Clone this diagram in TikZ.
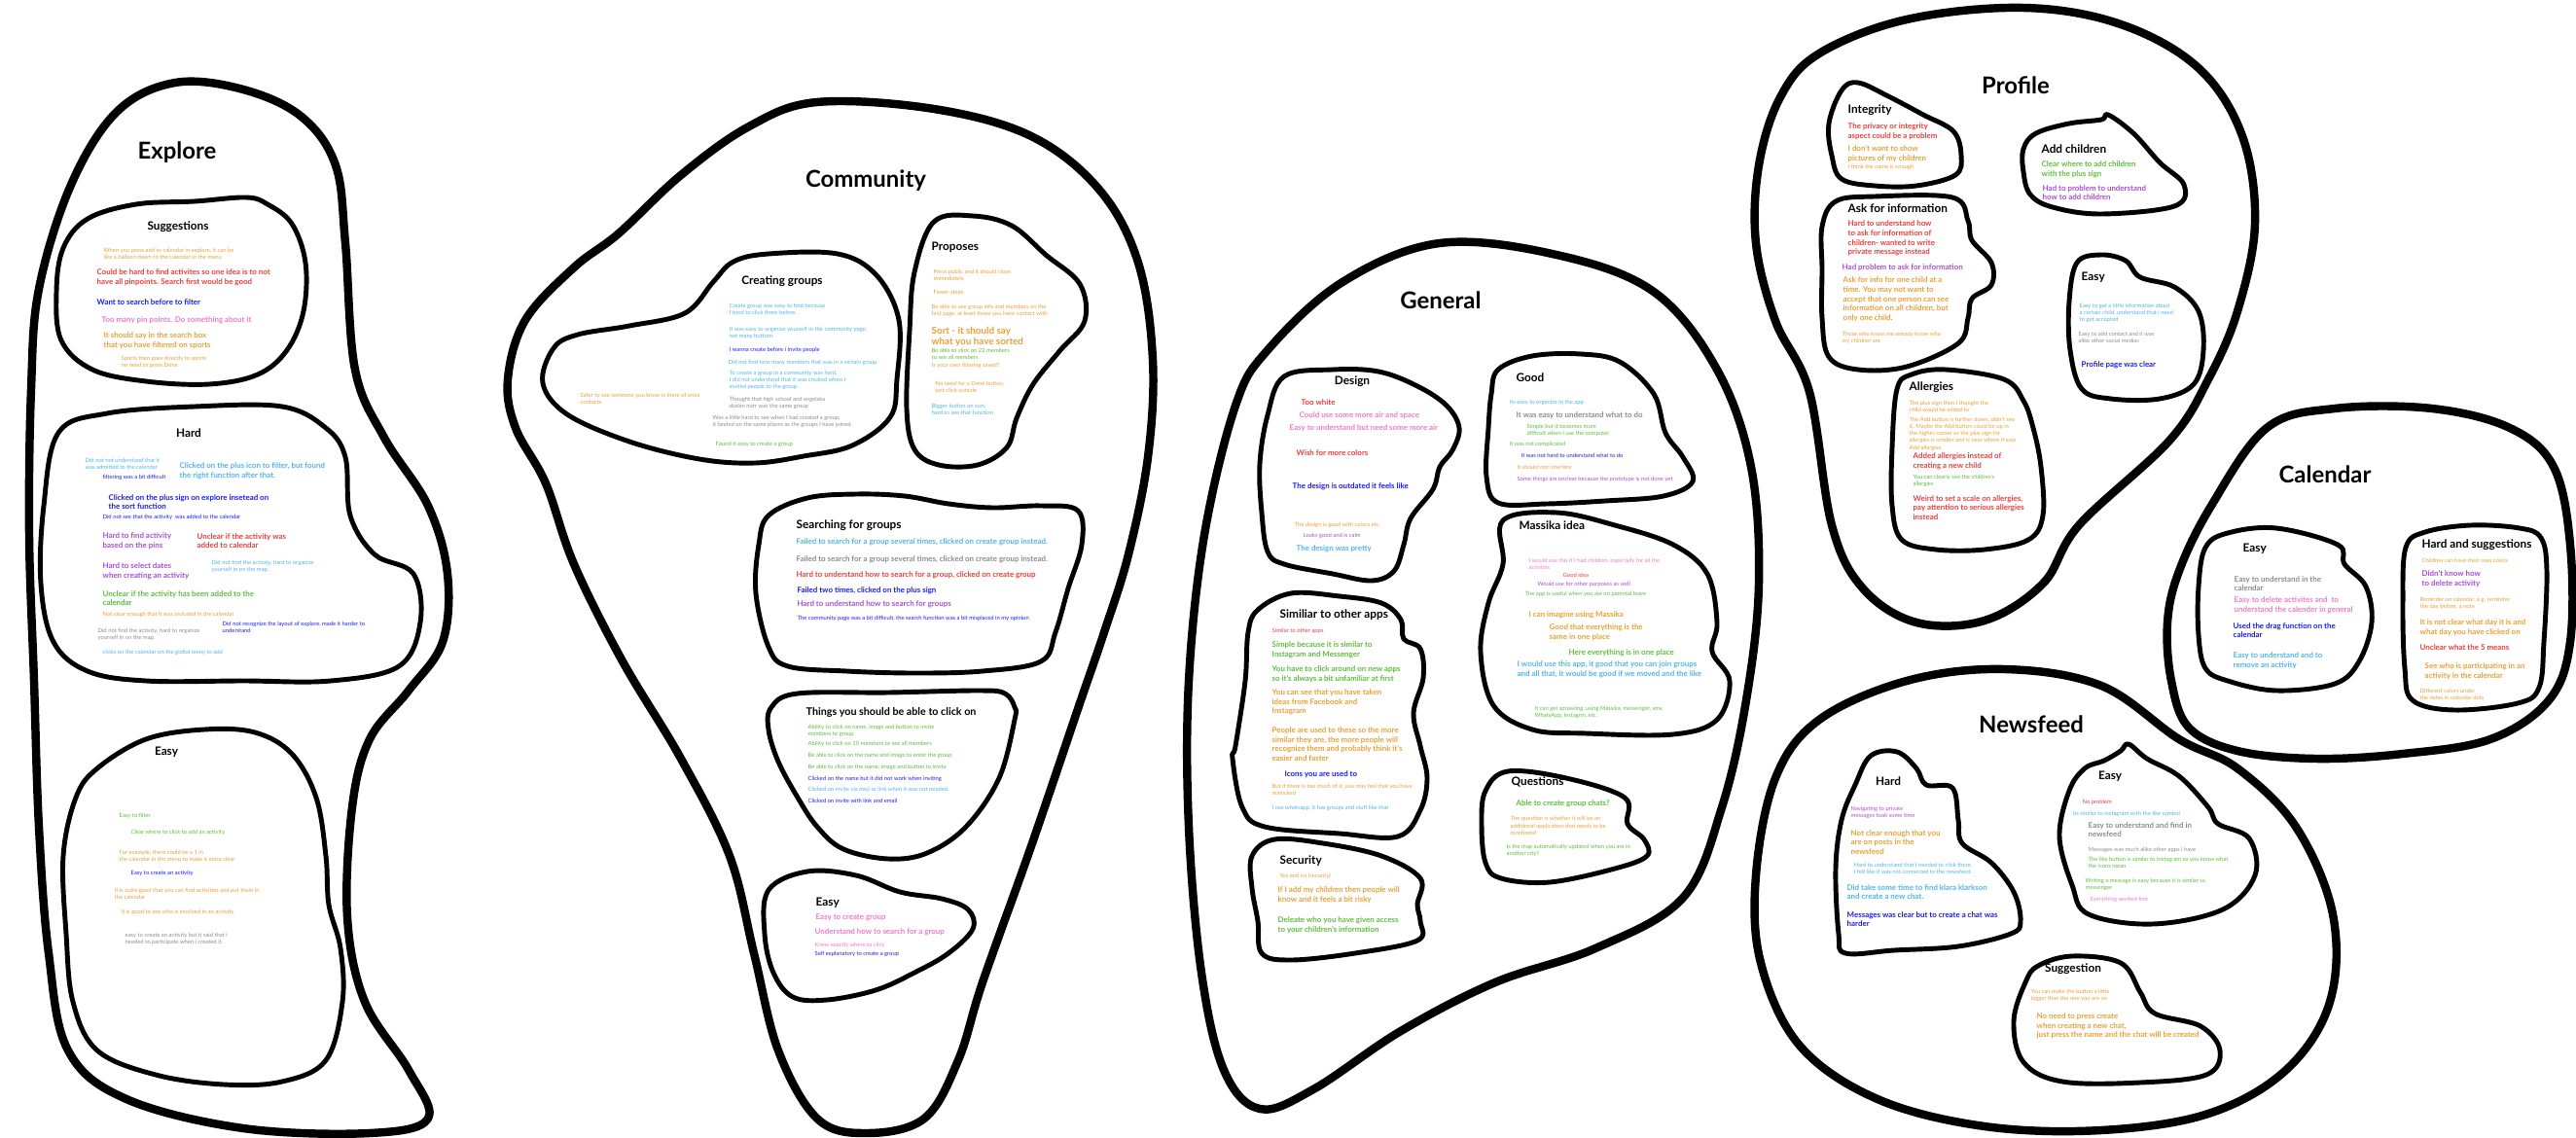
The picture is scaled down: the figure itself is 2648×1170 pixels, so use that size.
\documentclass[tikz,border=0pt]{standalone}
\usepackage{fontspec}
\setmainfont{Lato}
\usepackage{tikz}

\definecolor{nOrange}{RGB}{233,160,52}
\definecolor{nRed}{RGB}{232,62,60}
\definecolor{nBlue}{RGB}{28,28,240}
\definecolor{nLight}{RGB}{78,182,232}
\definecolor{nPink}{RGB}{240,122,200}
\definecolor{nPurple}{RGB}{168,78,212}
\definecolor{nGreen}{RGB}{92,190,60}
\definecolor{nGrey}{RGB}{140,140,140}

\tikzset{
  area/.style={draw=black, line width=2.4pt, line join=round, line cap=round},
  group/.style={draw=black, line width=1.4pt, line join=round, line cap=round},
  maintitle/.style={font=\fontsize{6.8pt}{8pt}\selectfont\bfseries, inner sep=0pt},
  subtitle/.style={font=\fontsize{3.35pt}{4pt}\selectfont\bfseries, anchor=west, inner sep=0pt},
  big/.style={font=\fontsize{2.25pt}{2.75pt}\selectfont\bfseries, anchor=west, align=left, inner sep=0pt},
  sm/.style={font=\fontsize{1.66pt}{2.05pt}\selectfont, anchor=west, align=left, inner sep=0pt},
}

\begin{document}
\begin{tikzpicture}[x=0.01cm,y=-0.01cm]
\useasboundingbox (0,0) rectangle (2648,1170);

% Explore
\draw[area] plot[smooth cycle, tension=0.6] coordinates {(180,85) (250,92) (310,120) (345,170) (355,250) (365,380) (395,450) (440,520) (460,590) (455,660) (420,710) (380,760) (362,830) (357,943) (375,1030) (420,1100) (440,1150) (380,1165) (250,1160) (130,1130) (70,1080) (50,980) (40,850) (35,700) (30,550) (32,400) (40,297) (73,190) (120,115)};
\node[maintitle] (explore) at (182,157) {Explore};

\draw[group] plot[smooth cycle, tension=0.6] coordinates {(253,203) (275,210) (300,230) (314,270) (312,320) (295,360) (265,385) (215,395) (150,392) (95,380) (63,350) (58,300) (65,255) (90,225) (140,210) (200,207)};
\node[subtitle, anchor=center] (exSug) at (183,233) {Suggestions};
\node[sm, nOrange] (exSug1) at (106,261) {When you press add to calendar in explore, it can be\\like a balloon down to the calendar in the menu};
\node[big, nRed] (exSug2) at (99,285) {Could be hard to find activites so one idea is to not\\have all pinpoints. Search first would be good};
\node[big, nBlue] (exSug3) at (99,311) {Want to search before to filter};
\node[big, nPink] (exSug4) at (104,329) {Too many pin points. Do something about it};
\node[big, nOrange] (exSug5) at (106,350) {It should say in the search box\\that you have filtered on sports};
\node[sm, nOrange] (exSug6) at (124,372) {Sports then goes directly to sports\\no need to press Done};

\draw[group] plot[smooth cycle, tension=0.6] coordinates {(60,445) (110,425) (200,418) (290,418) (335,440) (355,470) (360,530) (385,570) (425,590) (432,640) (410,685) (340,700) (250,700) (150,700) (90,690) (55,660) (42,600) (45,520)};
\node[subtitle, anchor=center] (exHard) at (194,445) {Hard};
\node[sm, nLight] (exHard1) at (87,477) {Did not not understand that it\\was admitted to the calendar};
\node[sm, nBlue] (exHard2) at (105,491) {filtering was a bit difficult};
\node[big, nLight] (exHard3) at (184,484) {Clicked on the plus icon to filter, but found\\the right function after that.};
\node[big, nBlue] (exHard4) at (111,516) {Clicked on the plus sign on explore insetead on\\the sort function};
\node[sm, nBlue] (exHard5) at (105,532) {Did not see that the activity\ \ was added to the calendar};
\node[big, nPurple] (exHard6) at (105,556) {Hard to find activity\\based on the pins};
\node[big, nRed] (exHard7) at (202,556) {Unclear if the activity was\\added to calendar};
\node[big, nPurple] (exHard8) at (105,587) {Hard to select dates\\when creating an activity};
\node[sm, nLight] (exHard9) at (217,582) {Did not find the activity, hard to organize\\yourself in on the map.};
\node[big, nGreen] (exHard10) at (105,615) {Unclear if the activity has been added to the\\calendar};
\node[sm, nOrange] (exHard11) at (105,632) {Not clear enough that it was included in the calendar};
\node[sm, nGrey] (exHard12) at (100,652) {Did not find the activity, hard to organize\\ yourself in on the map.};
\node[sm, nBlue] (exHard13) at (228,645) {Did not recognize the layout of explore, made it harder to\\understand};
\node[sm, nLight] (exHard14) at (105,671) {clicks on the calendar on the global meny to add};

\draw[group] plot[smooth cycle, tension=0.6] coordinates {(100,790) (150,760) (210,750) (262,753) (300,775) (325,820) (335,880) (338,930) (350,975) (352,1030) (335,1090) (290,1112) (230,1115) (160,1105) (100,1080) (75,1030) (68,960) (65,880) (78,820)};
\node[subtitle, anchor=center] (exEasy) at (171,773) {Easy};
\node[sm, nGreen] (exEasy1) at (122,839) {Easy to filter};
\node[sm, nGreen] (exEasy2) at (134,856) {Clear where to click to add an activity};
\node[sm, nOrange] (exEasy3) at (122,880) {For example, there could be a 1 in\\the calendar in the menu to make it extra clear};
\node[sm, nBlue] (exEasy4) at (134,898) {Easy to create an activity};
\node[sm, nOrange] (exEasy5) at (117,919) {It is quite good that you can find activities and put them in\\the calendar};
\node[sm, nOrange] (exEasy6) at (124,938) {It is good to see who is involved in an activity.};
\node[sm, nGrey] (exEasy7) at (128,965) {easy to create an activity but it said that i\\needed to participate when i created it.};

% Community
\draw[area] plot[smooth cycle, tension=0.6] coordinates {(840,105) (960,112) (1060,140) (1130,195) (1170,270) (1185,370) (1180,470) (1160,570) (1135,650) (1110,723) (1060,870) (1010,1010) (985,1090) (950,1150) (890,1165) (840,1150) (800,1080) (775,980) (750,880) (700,780) (640,680) (590,580) (561,497) (530,440) (522,390) (540,329) (590,275) (636,240) (700,180) (770,130)};
\node[maintitle] (community) at (890,186) {Community};

\draw[group] plot[smooth cycle, tension=0.6] coordinates {(790,261) (861,261) (901,283) (924,329) (922,390) (915,429) (876,458) (826,469) (776,476) (719,472) (647,454) (583,426) (558,394) (569,358) (594,344) (647,335) (704,322) (733,290) (754,269)};
\node[subtitle, anchor=center] (cmCreate) at (804,289) {Creating groups};
\node[sm, nLight] (cmCreate1) at (749,318) {Create group was easy to find because\\I tried to click there before.};
\node[sm, nLight] (cmCreate2) at (749,342) {It was easy to organize yourself in the community page,\\ not many buttons};
\node[sm, nBlue] (cmCreate3) at (749,360) {I wanna create before i invite people};
\node[sm, nLight] (cmCreate4) at (748,373) {Did not find how many members that was in a sertain group};
\node[sm, nLight] (cmCreate5) at (749,391) {To create a group in a community was hard,\\I did not understand that it was created when I\\invited people to the group.};
\node[sm, nGrey] (cmCreate6) at (749,414) {Thought that high school and engelska\\ skolan norr was the same group};
\node[sm, nGrey] (cmCreate7) at (732,433) {Was a little hard to see when I had created a group,\\ it landed on the same places as the groups I have joined.};
\node[sm, nGreen] (cmCreate8) at (735,457) {Found it easy to create a group};
\node[sm, nOrange] (cmCreate9) at (596,410) {Safer to see someone you know is there of ones\\contacts};

\draw[group] plot[smooth cycle, tension=0.6] coordinates {(960,228) (1000,222) (1040,232) (1075,262) (1110,292) (1115,330) (1090,360) (1062,395) (1045,430) (1035,460) (1005,478) (965,478) (940,462) (932,420) (935,340) (940,280)};
\node[subtitle] (cmProp) at (957,254) {Proposes};
\node[sm, nOrange] (cmProp1) at (959,283) {Press public and it should close\\immediately};
\node[sm, nOrange] (cmProp2) at (959,301) {Fewer steps};
\node[sm, nOrange] (cmProp3) at (957,319) {Be able to see group info and members on the\\first page, at least those you have contact with};
\node[big, nOrange, font=\fontsize{2.8pt}{3.3pt}\selectfont\bfseries] (cmProp4) at (957,346) {Sort - it should say\\what you have sorted};
\node[sm, nGreen] (cmProp5) at (957,364) {Be able to click on 22 members\\to see all members};
\node[sm, nOrange] (cmProp6) at (957,376) {Is your own filtering saved?};
\node[sm, nOrange] (cmProp7) at (961,398) {No need for a Done button,\\just click outside};
\node[sm, nLight] (cmProp8) at (957,421) {Bigger button on sort,\\hard to see that function};

\draw[group] plot[smooth cycle, tension=0.6] coordinates {(790,530) (830,512) (880,508) (930,510) (975,518) (1020,522) (1070,520) (1108,525) (1112,560) (1098,605) (1085,650) (1070,680) (1010,690) (940,692) (870,690) (810,685) (790,665) (777,610) (780,560)};
\node[subtitle] (cmSearch) at (818,540) {Searching for groups};
\node[big, nLight] (cmSearch1) at (818,557) {Failed to search for a group several times, clicked on create group instead.};
\node[big, nGrey] (cmSearch2) at (818,575) {Failed to search for a group several times, clicked on create group instead.};
\node[big, nRed] (cmSearch3) at (818,591) {Hard to understand how to search for a group, clicked on create group};
\node[big, nBlue] (cmSearch4) at (819,607) {Failed two times, clicked on the plus sign};
\node[big, nPurple] (cmSearch5) at (819,621) {Hard to understand how to search for groups};
\node[sm, nBlue] (cmSearch6) at (819,636) {The community page was a bit difficult, the search function was a bit misplaced in my opinion};

\draw[group] plot[smooth cycle, tension=0.6] coordinates {(793,727) (820,713) (913,712) (1007,710) (1033,713) (1043,727) (1043,740) (1027,800) (993,850) (953,877) (913,883) (867,873) (840,850) (820,820) (800,783) (790,750)};
\node[subtitle, font=\fontsize{3.05pt}{4pt}\selectfont\bfseries] (cmClick) at (828,732) {Things you should be able to click on};
\node[sm, nGreen] (cmClick1) at (830,751) {Ability to click on name, image and button to invite\\members to group};
\node[sm, nGreen] (cmClick2) at (830,765) {Ability to click on 10 members to see all members};
\node[sm, nGreen] (cmClick3) at (830,777) {Be able to click on the name and image to enter the group};
\node[sm, nGreen] (cmClick4) at (830,789) {Be able to click on the name, image and button to invite};
\node[sm, nBlue] (cmClick5) at (830,801) {Clicked on the name but it did not work when inviting};
\node[sm, nLight] (cmClick6) at (830,812) {Clicked on invite via meji or link when it was not needed.};
\node[sm, nBlue] (cmClick7) at (830,823) {Clicked on invite with link and email};

\draw[group] plot[smooth cycle, tension=0.6] coordinates {(790,915) (830,896) (880,900) (925,917) (968,924) (995,935) (1000,955) (975,980) (940,1000) (900,1018) (850,1028) (815,1025) (795,1000) (786,960)};
\node[subtitle] (cmEasy) at (838,928) {Easy};
\node[big, nPink] (cmEasy1) at (838,943) {Easy to create group};
\node[big, nPink] (cmEasy2) at (837,958) {Understand how to search for a group};
\node[sm, nPink] (cmEasy3) at (837,972) {Knew exactly where to click};
\node[sm, nBlue] (cmEasy4) at (837,981) {Self explanatory to create a group};

% General
\draw[area] plot[smooth cycle, tension=0.6] coordinates {(1480,250) (1600,262) (1700,300) (1765,380) (1800,480) (1808,600) (1795,720) (1770,830) (1730,923) (1640,975) (1537,1010) (1440,1060) (1350,1120) (1295,1140) (1258,1100) (1235,1000) (1222,850) (1222,700) (1238,550) (1270,417) (1303,360) (1380,290)};
\node[maintitle] (general) at (1481,309) {General};

\draw[group] plot[smooth cycle, tension=0.6] coordinates {(1320,387) (1370,380) (1417,382) (1457,397) (1487,417) (1500,440) (1493,463) (1480,480) (1473,503) (1450,533) (1443,560) (1433,587) (1410,597) (1370,590) (1320,580) (1303,567) (1297,527) (1295,477) (1303,427)};
\node[subtitle, anchor=center] (gnDesign) at (1390,392) {Design};
\node[big, nRed] (gnDesign1) at (1337,414) {Too white};
\node[big, nPink] (gnDesign2) at (1335,427) {Could use some more air and space};
\node[big, nPink] (gnDesign3) at (1325,440) {Easy to understand but need some more air};
\node[big, nRed] (gnDesign4) at (1332,466) {Wish for more colors};
\node[big, nBlue] (gnDesign5) at (1328,500) {The design is outdated it feels like};
\node[sm, nOrange] (gnDesign6) at (1330,540) {The design is good with colors etc.};
\node[sm, nPurple] (gnDesign7) at (1339,551) {Looks good and is calm};
\node[big, nLight] (gnDesign8) at (1332,564) {The design was pretty};

\draw[group] plot[smooth cycle, tension=0.6] coordinates {(1540,380) (1575,366) (1625,364) (1665,372) (1700,405) (1712,445) (1730,470) (1740,495) (1710,510) (1650,515) (1590,518) (1540,517) (1528,490) (1530,440) (1533,405)};
\node[subtitle, anchor=center] (gnGood) at (1573,388) {Good};
\node[sm, nLight] (gnGood1) at (1551,414) {Its easy to organize in the app};
\node[big, nGrey] (gnGood2) at (1558,427) {It was easy to understand what to do};
\node[sm, nGreen] (gnGood3) at (1569,442) {Simple but it becomes more\\difficult when I use the computer};
\node[sm, nGreen] (gnGood4) at (1551,457) {It was not complicated};
\node[sm, nBlue] (gnGood5) at (1563,468) {It was not hard to understand what to do};
\node[sm, nOrange] (gnGood6) at (1559,480) {It should not interfere};
\node[sm, nPurple] (gnGood7) at (1559,493) {Some things are unclear because the prototype is not done yet};

\draw[group] plot[smooth cycle, tension=0.6] coordinates {(1545,535) (1600,527) (1660,540) (1720,560) (1755,590) (1765,640) (1760,670) (1778,700) (1765,740) (1720,755) (1630,754) (1575,750) (1535,725) (1522,670) (1530,620) (1545,580)};
\node[subtitle] (gnMassika) at (1561,540) {Massika idea};
\node[sm, nPink] (gnMassika1) at (1571,580) {I would use this if I had children, especially for all the\\activites};
\node[sm, nRed] (gnMassika2) at (1606,591) {Good idea};
\node[sm, nPurple] (gnMassika3) at (1580,601) {Would use for other purposes as well};
\node[sm, nGreen] (gnMassika4) at (1567,611) {The app is useful when you are on parental leave};
\node[big, nOrange] (gnMassika5) at (1571,632) {I can imagine using Massika};
\node[big, nOrange] (gnMassika6) at (1592,650) {Good that everything is the\\same in one place};
\node[big, nGreen] (gnMassika7) at (1612,671) {Here everything is in one place};
\node[big, nLight] (gnMassika8) at (1559,688) {I would use this app, it good that you can join groups\\and all that, it would be good if we moved and the like};
\node[sm, nGreen] (gnMassika9) at (1577,732) {It can get sprawling, using Massika, messenger, sms,\\WhatsApp, instagrm, etc.};

\draw[group] plot[smooth cycle, tension=0.6] coordinates {(1293,627) (1327,610) (1377,613) (1420,620) (1440,637) (1443,657) (1460,667) (1463,697) (1453,733) (1460,767) (1467,800) (1460,833) (1437,860) (1377,857) (1300,850) (1277,830) (1267,780) (1270,767) (1280,700) (1283,650)};
\node[subtitle] (gnSimilar) at (1315,632) {Similiar to other apps};
\node[sm, nRed] (gnSimilar1) at (1307,649) {Similar to other apps};
\node[big, nGreen] (gnSimilar2) at (1307,668) {Simple because it is similar to\\Instagram and Messenger};
\node[big, nGreen] (gnSimilar3) at (1307,693) {You have to click around on new apps\\so it's always a bit unfamiliar at first};
\node[big, nOrange] (gnSimilar4) at (1307,722) {You can see that you have taken\\ideas from Facebook and\\Instagram};
\node[big, nOrange] (gnSimilar5) at (1307,765) {People are used to these so the more\\similar they are, the more people will\\recognize them and probably think it's\\easier and faster};
\node[big, nBlue] (gnSimilar6) at (1320,796) {Icons you are used to};
\node[sm, nOrange] (gnSimilar7) at (1307,812) {But if there is too much of it, you may feel that you have\\mimicked};
\node[sm, nLight] (gnSimilar8) at (1307,831) {I use whatsapp, it has groups and stuff like that};

\draw[group] plot[smooth cycle, tension=0.6] coordinates {(1287,880) (1310,863) (1360,867) (1420,880) (1460,903) (1457,930) (1460,947) (1457,967) (1393,980) (1327,987) (1297,980) (1293,947) (1287,913)};
\node[subtitle] (gnSecurity) at (1315,885) {Security};
\node[sm, nOrange] (gnSecurity1) at (1315,901) {Yes and no (security)};
\node[big, nOrange] (gnSecurity2) at (1313,920) {If I add my children then people will\\know and it feels a bit risky};
\node[big, nGreen] (gnSecurity3) at (1313,951) {Deleate who you have given access\\to your children's information};

\draw[group] plot[smooth cycle, tension=0.6] coordinates {(1527,813) (1550,793) (1610,800) (1670,820) (1673,847) (1690,863) (1693,880) (1660,893) (1593,907) (1543,903) (1527,887) (1523,847)};
\node[subtitle] (gnQuestions) at (1553,804) {Questions};
\node[big, nGreen] (gnQuestions1) at (1558,826) {Able to create group chats?};
\node[sm, nOrange] (gnQuestions2) at (1552,849) {The question is whether it will be an\\additional application that needs to be\\monitored};
\node[sm, nGreen] (gnQuestions3) at (1548,874) {Is the map automatically updated when you are in\\another city?};

% Profile
\draw[area] plot[smooth cycle, tension=0.6] coordinates {(1870,55) (1960,20) (2080,8) (2180,25) (2260,70) (2305,140) (2318,230) (2300,320) (2270,390) (2230,453) (2137,540) (2100,600) (2040,638) (1970,640) (1915,605) (1883,540) (1860,403) (1825,330) (1805,250) (1808,170) (1830,100)};
\node[maintitle] (profile) at (2072,88) {Profile};

\draw[group] plot[smooth cycle, tension=0.6] coordinates {(1880,127) (1893,93) (1910,85) (1943,100) (1977,118) (2008,135) (2016,160) (2010,180) (1970,191) (1927,191) (1893,184) (1883,160)};
\node[subtitle] (pfIntegrity) at (1899,113) {Integrity};
\node[big, nRed] (pfIntegrity1) at (1899,135) {The privacy or integrity\\aspect could be a problem};
\node[big, nOrange] (pfIntegrity2) at (1899,158) {I don't want to show\\pictures of my children};
\node[sm, nOrange] (pfIntegrity3) at (1899,172) {I think the name is enough};

\draw[group] plot[smooth cycle, tension=0.6] coordinates {(2093,137) (2127,127) (2160,123) (2167,118) (2193,137) (2220,167) (2245,190) (2235,212) (2160,220) (2110,213) (2087,200) (2080,177) (2080,153)};
\node[subtitle] (pfChildren) at (2098,153) {Add children};
\node[big, nGreen] (pfChildren1) at (2098,174) {Clear where to add children\\with the plus sign};
\node[big, nPurple] (pfChildren2) at (2099,198) {Had to problem to understand\\how to add children};

\draw[group] plot[smooth cycle, tension=0.6] coordinates {(1887,207) (1927,202) (2007,203) (2023,227) (2027,247) (2047,270) (2047,293) (2027,307) (2023,327) (2013,353) (1960,377) (1910,380) (1880,367) (1873,327) (1873,277) (1873,233)};
\node[subtitle] (pfAsk) at (1899,214) {Ask for information};
\node[big, nRed] (pfAsk1) at (1899,245) {Hard to understand how\\to ask for information of\\children- wanted to write\\private message instead};
\node[big, nPurple] (pfAsk2) at (1893,275) {Had problem to ask for information};
\node[big, nOrange] (pfAsk3) at (1894,308) {Ask for info for one child at a\\time. You may not want to\\accept that one person can see\\information on all children, but\\only one child.};
\node[sm, nOrange] (pfAsk4) at (1893,347) {Those who know me already know who\\my children are};

\draw[group] plot[smooth cycle, tension=0.6] coordinates {(2135,270) (2160,262) (2185,268) (2200,285) (2235,295) (2260,320) (2265,360) (2255,395) (2220,410) (2170,410) (2140,400) (2128,360) (2127,310)};
\node[subtitle] (pfEasy) at (2139,285) {Easy};
\node[sm, nLight] (pfEasy1) at (2137,322) {Easy to get a little information about\\a certain child, understand that i need\\to get accepted};
\node[sm, nGrey] (pfEasy2) at (2136,347) {Easy to add contact and it was\\ alike other social medias};
\node[big, nBlue] (pfEasy3) at (2139,375) {Profile page was clear};

\draw[group] plot[smooth cycle, tension=0.6] coordinates {(1950,400) (1965,385) (2000,380) (2060,390) (2080,412) (2090,440) (2098,480) (2100,530) (2085,555) (2040,565) (1990,565) (1955,555) (1945,520) (1945,460)};
\node[subtitle] (pfAllergies) at (1962,398) {Allergies};
\node[sm, nOrange] (pfAllergies1) at (1962,418) {The plus sign then I thought the\\child would be added to};
\node[sm, nOrange] (pfAllergies2) at (1962,446) {The Add button is further down, didn't see\\it. Maybe the Add button could be up in\\the higher corner or the plus sign for\\allergies is smaller and is near where it says\\Add allergies.};
\node[big, nRed] (pfAllergies3) at (1966,474) {Added allergies instead of\\creating a new child};
\node[sm, nGreen] (pfAllergies4) at (1966,494) {You can clearly see the children's\\allergies};
\node[big, nRed] (pfAllergies5) at (1966,522) {Weird to set a scale on allergies,\\pay attention to serious allergies\\instead};

% Calendar
\draw[area] plot[smooth cycle, tension=0.6] coordinates {(2330,440) (2400,420) (2500,420) (2580,440) (2625,480) (2642,560) (2642,660) (2620,720) (2560,760) (2470,775) (2380,780) (2300,772) (2250,748) (2232,700) (2228,640) (2240,587) (2273,520)};
\node[maintitle] (calendar) at (2390,488) {Calendar};

\draw[group] plot[smooth cycle, tension=0.6] coordinates {(2267,563) (2290,548) (2340,543) (2403,560) (2410,580) (2432,603) (2438,640) (2425,680) (2400,703) (2340,710) (2290,700) (2267,687) (2260,653) (2260,603)};
\node[subtitle] (clEasy) at (2305,564) {Easy};
\node[big, nGrey] (clEasy1) at (2296,600) {Easy to understand in the\\calendar};
\node[big, nPink] (clEasy2) at (2296,622) {Easy to delete activites and\ \ to\\understand the calender in general};
\node[big, nBlue] (clEasy3) at (2295,648) {Used the drag function on the\\calendar};
\node[big, nLight] (clEasy4) at (2295,679) {Easy to understand and to\\remove an activity};

\draw[group] plot[smooth cycle, tension=0.6] coordinates {(2493,547) (2540,540) (2590,543) (2612,553) (2618,587) (2615,660) (2610,707) (2588,723) (2523,730) (2480,720) (2472,687) (2470,620) (2473,563)};
\node[subtitle] (clHard) at (2489,560) {Hard and suggestions};
\node[sm, nOrange] (clHard1) at (2489,576) {Children can have their own colors};
\node[big, nPurple] (clHard2) at (2489,595) {Didn't know how\\to delete activity};
\node[sm, nOrange] (clHard3) at (2487,620) {Reminder on calendar, e.g. reminder\\the day before, a note};
\node[big, nOrange] (clHard4) at (2487,645) {It is not clear what day it is and\\what day you have clicked on};
\node[big, nRed] (clHard5) at (2487,666) {Unclear what the 5 means};
\node[big, nOrange] (clHard6) at (2492,690) {See who is participating in an\\activity in the calendar};
\node[sm, nOrange] (clHard7) at (2487,714) {Different colors under\\the dates in calendar dots};

% Newsfeed
\draw[area] plot[smooth cycle, tension=0.6] coordinates {(1870,740) (1960,700) (2060,688) (2160,705) (2240,760) (2300,790) (2360,850) (2398,940) (2395,1030) (2350,1100) (2270,1145) (2160,1162) (2040,1158) (1930,1130) (1850,1075) (1810,990) (1805,900) (1825,800)};
\node[maintitle] (newsfeed) at (2088,745) {Newsfeed};

\draw[group] plot[smooth cycle, tension=0.6] coordinates {(1907,807) (1923,777) (1950,773) (1970,790) (1980,807) (2007,810) (2013,843) (2017,867) (2047,887) (2070,917) (2077,947) (2067,960) (2013,973) (1947,977) (1897,980) (1890,960) (1887,893) (1893,843)};
\node[subtitle, anchor=center] (nfHard) at (1941,803) {Hard};
\node[sm, nPurple] (nfHard1) at (1902,835) {Navigating to private\\messages took some time};
\node[big, nOrange] (nfHard2) at (1902,866) {Not clear enough that you\\are on posts in the\\newsfeed};
\node[sm, nLight] (nfHard3) at (1905,893) {Hard to understand that I needed to click there.\\I felt like it was not connected to the newsfeed.};
\node[big, nLight] (nfHard4) at (1898,917) {Did take some time to find klara klarkson\\ and create a new chat.};
\node[big, nBlue] (nfHard5) at (1898,945) {Messages was clear but to create a chat was\\harder};

\draw[group] plot[smooth cycle, tension=0.6] coordinates {(2127,813) (2143,790) (2163,782) (2180,772) (2188,765) (2207,780) (2240,798) (2270,830) (2280,847) (2312,862) (2318,900) (2285,935) (2213,950) (2147,940) (2130,910) (2117,860)};
\node[subtitle, anchor=center] (nfEasy) at (2169,798) {Easy};
\node[sm, nRed] (nfEasy1) at (2140,825) {No problem};
\node[sm, nLight] (nfEasy2) at (2130,837) {Its similar to instagram with the like symbol};
\node[big, nGrey] (nfEasy3) at (2146,853) {Easy to understand and find in\\newsfeed};
\node[sm, nGrey] (nfEasy4) at (2146,874) {Messages was much alike other apps i have};
\node[sm, nGreen] (nfEasy5) at (2146,887) {The like button is similar to Instagram so you know what\\the icons mean};
\node[sm, nGreen] (nfEasy6) at (2143,909) {Writing a message is easy because it is similar to\\messenger};
\node[sm, nPink] (nfEasy7) at (2148,925) {Everything worked fine};

\draw[group] plot[smooth cycle, tension=0.6] coordinates {(2095,993) (2130,983) (2180,990) (2200,1020) (2215,1042) (2262,1055) (2282,1080) (2268,1105) (2200,1113) (2120,1112) (2080,1092) (2070,1050) (2082,1010)};
\node[subtitle, anchor=center] (nfSuggestion) at (2131,996) {Suggestion};
\node[sm, nOrange] (nfSuggestion1) at (2087,1023) {You can make the button a little\\bigger than the one you are on};
\node[big, nOrange] (nfSuggestion2) at (2093,1055) {No need to press create\\when creating a new chat,\\just press the name and the chat will be created};
\end{tikzpicture}
\end{document}
